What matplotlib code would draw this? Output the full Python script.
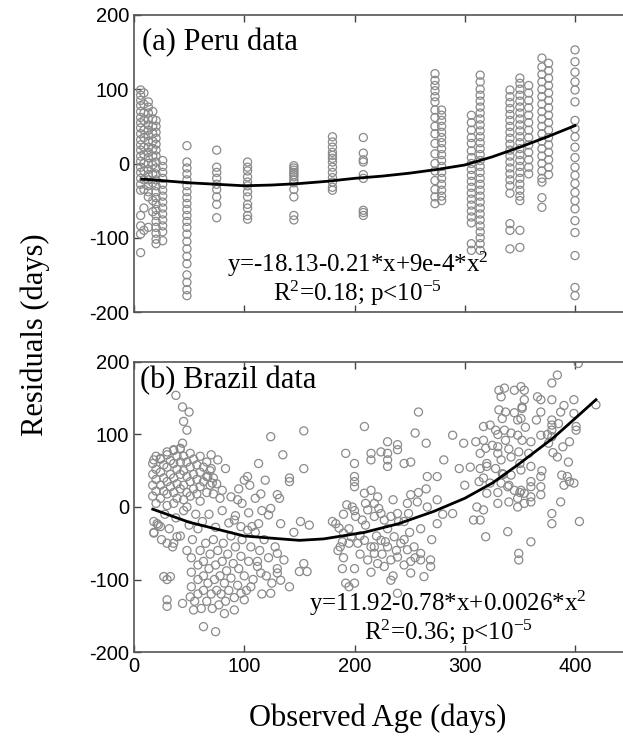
import matplotlib
matplotlib.use("Agg")
import matplotlib.pyplot as plt

plt.rcParams['mathtext.fontset'] = 'custom'
plt.rcParams['mathtext.rm'] = 'Liberation Serif'
plt.rcParams['mathtext.it'] = 'Liberation Serif:italic'
plt.rcParams['axes.unicode_minus'] = False

# ---------------- Data: (a) Peru, columns of residuals at observed ages
peru_col_ages = [6, 9, 13, 17, 20, 26, 48, 75, 103, 145, 180, 208,
                 273, 279, 306, 314, 341, 350, 358, 370, 376, 400]
peru_col_res = [
    [99, 92, 85, 78, 70, 62, 55, 48, 40, 32, 25, 18, 10, 3, -5, -12, -20, -28, -36, -70, -84, -95, -120],
    [95, 80, 68, 58, 45, 35, 22, 12, 0, -10, -22, -35, -60, -90],
    [83, 76, 68, 60, 52, 45, 38, 30, 22, 15, 8, 0, -8, -15, -22, -30, -38, -45, -86],
    [70, 60, 50, 40, 30, 20, 10, -2, -14, -26, -50, -65],
    [58, 50, 42, 34, 26, 18, 10, 2, -6, -14, -22, -30, -38, -46, -54, -62, -70, -78, -86, -94, -102, -108],
    [4, -4, -12, -20, -28, -36, -44, -52, -60, -68, -76, -84, -92, -104],
    [24, 2, -6, -14, -22, -30, -38, -46, -54, -62, -70, -78, -86, -95, -105, -115, -125, -135, -150, -160, -170, -178],
    [18, -5, -12, -20, -28, -35, -45, -55, -73],
    [2, -5, -10, -18, -25, -30, -38, -45, -55, -60, -70, -75],
    [-3, -6, -9, -12, -15, -18, -22, -26, -35, -45, -70, -76],
    [36, 29, 22, 15, 11, 7, 2, -5, -12, -19, -25, -32, -36],
    [35, 14, 5, 2, -15, -20, -63, -66, -70],
    [121, 112, 105, 98, 90, 83, 72, 62, 50, 40, 27, 13, 0, -10, -23, -35, -45, -54],
    [72, 65, 58, 50, 42, 35, 28, 20, 12, 4, -4, -12, -20, -28, -36, -44, -50],
    [65, 55, 45, 35, 27, 17, 8, 0, -8, -16, -24, -32, -40, -48, -56, -64, -72, -80, -108, -117],
    [119, 110, 100, 92, 84, 76, 68, 60, 52, 44, 36, 28, 20, 12, 4, -4, -12, -20, -28, -36, -44, -52, -60, -68, -76, -84, -92, -100, -108, -117],
    [99, 90, 82, 74, 66, 58, 50, 42, 34, 26, 18, 10, 2, -6, -14, -22, -30, -40, -81, -90, -115],
    [115, 108, 100, 92, 84, 76, 68, 60, 52, 44, 36, 28, 20, 12, 4, -4, -12, -20, -28, -36, -44, -50, -90, -113],
    [105, 95, 85, 75, 65, 55, 45, 35, 25, 15, 5, -5, -14],
    [142, 130, 120, 110, 100, 90, 80, 70, 60, 50, 40, 30, 20, 10, 0, -10, -20, -25, -46, -59],
    [135, 125, 115, 105, 95, 85, 75, 65, 55, 45, 35, 25, 15, 5, -5, -15],
    [153, 137, 123, 110, 99, 83, 58, 47, 36, 22, 8, -5, -16, -27, -39, -50, -61, -77, -93, -124, -167, -178],
]
peru_fit_x = [7, 25, 50, 75, 100, 125, 150, 175, 200, 225, 250, 275, 300, 325, 350, 375, 400]
peru_fit_y = [-21, -23, -26, -28, -30, -29, -27, -24, -20, -17, -13, -8, -2, 9, 22, 36, 51]

# ---------------- Data: (b) Brazil, scattered residuals
brazil_age = [
    38, 44, 50, 45, 48, 44, 30, 36, 42, 18, 24, 70, 76, 83, 70, 67, 71, 80, 88, 94, 100, 103, 113,
    91, 97, 103, 107, 113, 21, 18, 24, 30, 36, 39, 30, 27, 33, 30, 30, 44, 51, 54, 63, 74, 100, 97, 106,
    91, 82, 115, 112,
    124, 154, 135, 154, 141, 141, 119, 130, 132, 124, 122, 133, 151, 159, 145, 130, 136, 130, 141, 124, 133,
    150, 157, 154, 180, 183, 186, 189, 187, 192, 189, 192, 200, 195, 209, 200, 200, 200, 200, 215, 215,
    224, 230, 230, 230, 230, 239, 239, 245, 251, 255, 258, 265, 266, 209, 215, 221, 218, 212, 193, 198,
    201, 207, 218, 224, 227, 233, 239, 245, 249, 251, 257, 266, 190, 197, 203, 209, 215, 218, 212,
    224, 230, 236, 242, 248, 254, 260, 221, 227, 233, 239, 245, 251, 260, 269, 233, 239, 251, 263, 269,
    403, 384, 379, 331, 336, 345, 351, 354, 333, 354, 352, 366, 369, 379, 331, 337, 352, 369, 387, 399,
    334, 348, 351, 379, 379, 379, 379, 399, 401, 401, 419, 317, 323, 328, 336, 342, 289, 299, 317, 319,
    330, 337, 348, 352, 314, 330, 333, 342, 349, 358, 369, 376, 389, 384, 394, 281, 295, 275, 314, 320,
    317, 313, 328, 334, 342, 351, 360, 369, 369, 369, 360, 351, 388, 390, 395, 399, 393, 333, 339, 345,
    354, 360, 348, 354, 360, 348, 330, 340, 320, 323, 311, 317, 314, 308, 387, 379, 379, 404, 275, 289,
    339, 319, 360, 349, 349,
    17, 17, 17, 17, 20, 20, 20, 20, 20, 24, 24, 24, 24, 27, 27, 27, 30, 30, 30, 30, 30,
    33, 33, 33, 36, 36, 36, 36, 36, 39, 39, 39, 39, 42, 42, 42, 42, 45, 45, 45, 45, 48, 48, 48, 48,
    51, 51, 51, 51, 54, 54, 54, 57, 57, 57, 60, 60, 60, 60, 63, 63, 66, 66, 66, 69, 69, 72, 72, 75, 78,
    18, 18, 22, 25, 28, 32, 35, 38, 42, 45, 48, 50, 53, 56, 58,
    52, 52, 52, 55, 58, 58, 58, 60, 61, 63, 63, 63, 65, 66, 67, 68, 69, 70, 71, 72, 73, 74, 75, 76, 77,
    78, 79, 80, 81, 82, 83, 84, 85, 86, 88, 88, 90, 91, 92, 94, 95, 97, 98, 100, 102, 104, 106, 108, 110,
    112, 114, 116, 118, 120, 122, 125, 128, 130,
    62, 68, 74, 80, 86, 92, 98, 104, 110, 116, 95, 105, 115,
    185, 190, 195, 200, 205, 210, 215, 220, 225, 230, 235, 240, 245, 250, 255, 260, 195, 205, 218, 228,
    238, 190, 200, 210, 222, 235, 248, 258, 265, 270, 275, 280,
    320, 325, 330, 335, 340, 345, 350, 355, 360, 365, 370, 375, 380, 385, 390, 395, 340, 350, 360, 330,
    300, 305, 310,
]
brazil_res = [
    154, 138, 131, 118, 106, 88, 76, 79, 81, 65, 67, 72, 65, 53, 53, 42, 33, 23, 14, 10, 37, 42, 60,
    -18, -27, -32, -27, -23, -23, -36, -27, -50, -50, -41, -100, -96, -96, -128, -137, -133, -124, -142, -165, -172, -128, -119, -110,
    -142, -147, -91, -75,
    97, 105, 72, 53, 40, 35, 37, 17, 12, -2, -11, -23, -20, -25, -35, -64, -73, -91, -110, -119, -101,
    -89, -89, -78, -20, -23, -29, -48, -55, 74, -85, -105, -105, -110, 111, 60, 42, 35, 28, 74, 65,
    76, 90, 74, 65, 56, 86, 79, 60, 62, 102, 131, 88, 42, 19, 23, 14, 5, -4, 3, 0,
    -13, -18, -13, -9, -18, -13, -9, -20, -9, 17, 7, 0, -36, -41, -50, -46, -55, -64, -73,
    -46, -55, -41, -50, -59, -55, -64, -78, -82, -73, -69, -80, -75, -73, -82, -101, -119, -91, -96, -73,
    198, 182, 171, 161, 164, 161, 166, 161, 152, 148, 138, 152, 148, 148, 134, 131, 136, 131, 131, 148,
    122, 120, 122, 120, 113, 106, 97, 129, 106, 111, 141, 111, 113, 106, 106, 102, 99, 88, 92, 81,
    83, 92, 99, 92, 74, 74, 65, 69, 76, 74, 99, 88, 83, 69, 62, 65, 53, 42, 53, 56,
    40, 35, 53, 46, 44, 51, 56, 42, 28, 17, 28, 23, 44, 30, 35, 33, 42, 33, 28, 23,
    19, 14, 12, 5, 7, 0, 5, 7, 19, 33, 0, -4, -18, -18, 7, -9, -23, -20, -23, -9,
    -34, -41, -48, -64, -73,
    60, 45, 30, 15, 70, 52, 38, 22, 5, 66, 48, 30, 12, 58, 40, 22, 72, 55, 35, 18, 2,
    64, 45, 28, 78, 60, 40, 20, 5, 70, 52, 32, 12, 80, 62, 45, 25, 70, 50, 30, 10, 62, 42, 20, 0,
    74, 55, 35, 15, 66, 45, 25, 58, 38, 18, 70, 48, 28, 8, 55, 35, 62, 42, 20, 50, 30, 40, 18, 32, 12,
    -20, -35, -25, -45, -10, -30, -55, -15, -40, -5, -60, -25, -45, -10, -30,
    -70, -90, -110, -130, -80, -100, -120, -60, -140, -75, -95, -115, -50, -130, -105, -85, -65, -120, -140, -45, -100, -80, -115, -60, -135,
    -95, -120, -75, -50, -105, -130, -88, -65, -115, -40, -98, -78, -125, -55, -108, -85, -68, -45, -95, -115, -75, -55, -100, -35,
    -82, -60, -120, -45, -95, -70, -105, -55, -85,
    -20, -10, -28, -5, -22, -12, 5, -8, 12, -5, 25, 30, 18,
    -60, -70, -30, -85, -65, -25, -90, -40, -65, -30, -95, -20, -45, -35, -70, -30, -50, -40, -55, -48,
    -60, -10, -5, 5, -2, 10, 5, 20, 25, -45, 10, -10,
    60, 85, 100, 45, 80, 130, 60, 110, 90, 120, 50, 100, 75, 115, 140, 90, 30, 20, 35, 20,
    30, 55, 90,
]
brazil_fit_x = [17, 50, 100, 150, 172, 209, 240, 272, 300, 325, 348, 380, 400, 419]
brazil_fit_y = [-3, -21, -40, -46, -44, -35, -23, -6, 12, 33, 58, 95, 122, 148]

ticks_x = [0, 100, 200, 300, 400]
ticks_y = [-200, -100, 0, 100, 200]

# ---------------- Figure
W, H = 623, 755
fig = plt.figure(figsize=(W / 100, H / 100), dpi=100)

x_max = 450
ax_w = x_max * 1.1025 / W
left = 134 / W
ax1 = fig.add_axes([left, 1 - 312 / H, ax_w, (312 - 15) / H])
ax2 = fig.add_axes([left, 1 - 652 / H, ax_w, (652 - 362) / H])

marker_color = '#8a8a8a'
peru_x = [a for a, col in zip(peru_col_ages, peru_col_res) for _ in col]
peru_y = [v for col in peru_col_res for v in col]

ax1.scatter(peru_x, peru_y, s=34, facecolors='none', edgecolors=marker_color, linewidths=0.9, zorder=2)
ax1.plot(peru_fit_x, peru_fit_y, color='black', lw=2, zorder=3)
ax2.scatter(brazil_age, brazil_res, s=34, facecolors='none', edgecolors=marker_color, linewidths=0.9, zorder=2)
ax2.plot(brazil_fit_x, brazil_fit_y, color='black', lw=2, zorder=3)

serif = 'Liberation Serif'
for ax in (ax1, ax2):
    ax.set_xlim(0, x_max)
    ax.set_ylim(-200, 200)
    ax.set_xticks(ticks_x)
    ax.set_yticks(ticks_y)
    ax.tick_params(direction='in', top=True, right=False, length=5, width=1,
                   labelsize=14.5, color='#444444', labelcolor='black')
    for lab in ax.get_yticklabels() + ax.get_xticklabels():
        lab.set_fontfamily('Liberation Sans')
    for sp in ax.spines.values():
        sp.set_color('#555555')
        sp.set_linewidth(1.2)
ax1.tick_params(labelbottom=False)

ax1.text(7, 163, '(a) Peru data', fontsize=22, family=serif, va='center', ha='left')
ax2.text(5, 175, '(b) Brazil data', fontsize=22, family=serif, va='center', ha='left')

ax1.text(203, -136, r'y=-18.13-0.21*x+9e-4*x$^{2}$', fontsize=18, family=serif, ha='center', va='center')
ax1.text(203, -175, r'R$^{2}$=0.18; p<10$^{-5}$', fontsize=18, family=serif, ha='center', va='center')
ax2.text(285, -133, r'y=11.92-0.78*x+0.0026*x$^{2}$', fontsize=18, family=serif, ha='center', va='center')
ax2.text(285, -173, r'R$^{2}$=0.36; p<10$^{-5}$', fontsize=18, family=serif, ha='center', va='center')

fig.text(35 / W, 1 - 335 / H, 'Residuals (days)', rotation=90, fontsize=22, family=serif,
         ha='center', va='center')
fig.text(378 / W, 1 - 718 / H, 'Observed Age (days)', fontsize=22, family=serif,
         ha='center', va='center')

fig.savefig('out.png', dpi=100)
